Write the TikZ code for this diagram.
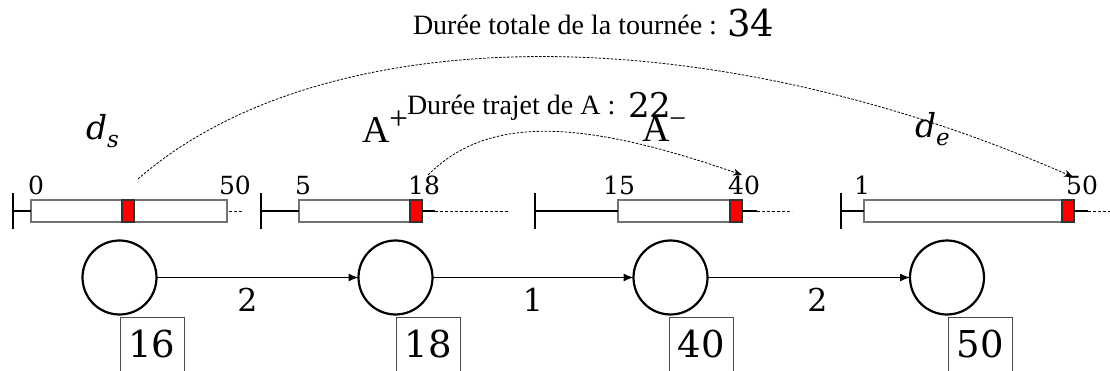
\documentclass[tikz,border=0pt]{standalone}
\usepackage{fontspec}
\setmainfont{Liberation Serif}
\newfontfamily\numf{DejaVu Serif}
\usetikzlibrary{arrows.meta}
\begin{document}
\begin{tikzpicture}[x=1pt,y=-1pt,
  every node/.style={inner sep=0pt, outer sep=0pt},
  txt/.style={anchor=base west, font=\fontsize{28}{30}\selectfont},
  bignum/.style={anchor=base west, font=\numf\fontsize{37}{37}\selectfont},
  mlabel/.style={anchor=base west, font=\numf\itshape\fontsize{33}{33}\selectfont},
  alabel/.style={anchor=base west, font=\fontsize{38}{38}\selectfont},
  elabel/.style={anchor=base, font=\numf\fontsize{31.5}{32}\selectfont},
  blabel/.style={anchor=base, font=\numf\fontsize{25}{25}\selectfont},
  circ/.style={circle, draw=black, line width=2.2pt, minimum size=74pt, fill=white},
  valbox/.style={rectangle, draw=black!70, line width=1pt, anchor=base,
    minimum width=64pt, text height=40pt, text depth=30pt,
    font=\numf\fontsize{37}{37}\selectfont},
  edge/.style={line width=1.3pt, -{Latex[length=10pt,width=8pt]}},
  win/.style={rectangle, draw=black!55, line width=1.2pt, fill=white,
    minimum height=22pt, anchor=west},
  redm/.style={rectangle, draw=black!80, line width=1.2pt, fill=red,
    minimum height=22pt, minimum width=12pt, anchor=west},
  tickl/.style={line width=1.3pt},
  tail/.style={line width=0.8pt, dash pattern=on 3pt off 2pt},
  arcl/.style={line width=0.8pt, dash pattern=on 2.5pt off 1.5pt,
    -{Stealth[length=9pt,width=7pt]}}
]
\useasboundingbox (0,0) rectangle (1110,371);
\clip (0,0) rectangle (1110,371);

% titles
\node[txt] (tot) at (413,35) {Durée totale de la tournée :};
\node[bignum] (totv) at (727,37) {34};
\node[txt] (traj) at (407,115) {Durée trajet de A :};
\node[bignum, font=\numf\fontsize{34}{34}\selectfont] (trajv) at (628,118) {22};

% node labels
\node[mlabel] (ds) at (86,140) {d\raisebox{-8pt}{\fontsize{23}{23}\selectfont s}};
\node[alabel] (ap) at (362,143) {A\raisebox{13pt}{\fontsize{33}{33}\selectfont +}};
\node[alabel] (am) at (642,142) {A\raisebox{13pt}{\fontsize{30}{30}\selectfont −}};
\node[mlabel] (de) at (915,138) {d\raisebox{-8pt}{\fontsize{23}{23}\selectfont e}};

% bar 1
\coordinate (t1) at (13,211);
\node[win, minimum width=196pt] (w1) at (31,211) {};
\node[redm] (r1) at (122,211) {};
\coordinate (e1a) at (229,211);
\coordinate (e1b) at (243,211);
\draw[tickl] ([yshift=-18pt]t1) -- ([yshift=18pt]t1);
\draw[tickl] (t1) -- (w1.west);
\draw[tail] (e1a) -- (e1b);
\node[blabel] (b1a) at (36,195) {0};
\node[blabel] (b1b) at (235,195) {50};

% bar 2
\coordinate (t2) at (261,211);
\node[win, minimum width=123pt] (w2) at (299,211) {};
\node[redm] (r2) at (410,211) {};
\coordinate (e2a) at (435,211);
\coordinate (e2b) at (508,211);
\draw[tickl] ([yshift=-18pt]t2) -- ([yshift=18pt]t2);
\draw[tickl] (t2) -- (w2.west);
\draw[tickl] (r2.east) -- (e2a);
\draw[tail] (e2a) -- (e2b);
\node[blabel] (b2a) at (303,195) {5};
\node[blabel] (b2b) at (424,195) {18};

% bar 3
\coordinate (t3) at (535,211);
\node[win, minimum width=124pt] (w3) at (618,211) {};
\node[redm] (r3) at (730,211) {};
\coordinate (e3a) at (757,211);
\coordinate (e3b) at (792,211);
\draw[tickl] ([yshift=-18pt]t3) -- ([yshift=18pt]t3);
\draw[tickl] (t3) -- (w3.west);
\draw[tickl] (r3.east) -- (e3a);
\draw[tail] (e3a) -- (e3b);
\node[blabel] (b3a) at (619,195) {15};
\node[blabel] (b3b) at (744,195) {40};

% bar 4
\coordinate (t4) at (841,211);
\node[win, minimum width=210pt] (w4) at (864,211) {};
\node[redm] (r4) at (1062,211) {};
\coordinate (e4a) at (1088,211);
\coordinate (e4b) at (1112,211);
\draw[tickl] ([yshift=-18pt]t4) -- ([yshift=18pt]t4);
\draw[tickl] (t4) -- (w4.west);
\draw[tickl] (r4.east) -- (e4a);
\draw[tail] (e4a) -- (e4b);
\node[blabel] (b4a) at (862,195) {1};
\node[blabel] (b4b) at (1082,195) {50};

% arcs
\coordinate (g1) at (138,179);
\coordinate (g2) at (1073,177);
\draw[arcl] (g1) .. controls (320,20) and (700,13) .. (g2);
\coordinate (h1) at (428,175);
\coordinate (h2) at (742,175);
\draw[arcl] (h1) .. controls (486,117) and (576,117) .. (h2);

% circles
\node[circ] (c1) at (119.5,277.5) {};
\node[circ] (c2) at (395.5,277.5) {};
\node[circ] (c3) at (670.5,277.5) {};
\node[circ] (c4) at (947,277.5) {};
\draw[edge] (c1) -- (c2);
\draw[edge] (c2) -- (c3);
\draw[edge] (c3) -- (c4);
\node[elabel] (l1) at (247.5,311) {2};
\node[elabel] (l2) at (533,311) {1};
\node[elabel] (l3) at (817.5,311) {2};

% value boxes
\node[valbox] (v1) at (152,357) {16};
\node[valbox] (v2) at (428.5,357) {18};
\node[valbox] (v3) at (701,357) {40};
\node[valbox] (v4) at (980.5,357) {50};
\end{tikzpicture}
\end{document}
